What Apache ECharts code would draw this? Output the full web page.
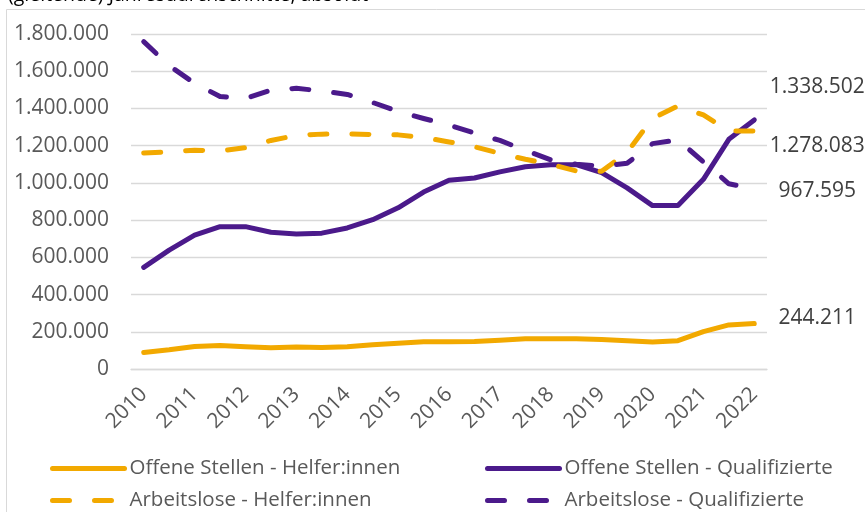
<!DOCTYPE html>
<html>
<head>
<meta charset="utf-8">
<script src="https://cdn.jsdelivr.net/npm/echarts@6/dist/echarts.min.js"></script>
<style>
html,body{margin:0;padding:0;background:#fff;}
#chart{width:865px;height:512px;}
</style>
</head>
<body>
<div id="chart"></div>
<script>
// Half-year points of moving annual averages, 2010 .. 2022
const categories = ['2010','2010,5','2011','2011,5','2012','2012,5','2013','2013,5','2014','2014,5',
  '2015','2015,5','2016','2016,5','2017','2017,5','2018','2018,5','2019','2019,5',
  '2020','2020,5','2021','2021,5','2022'];

const yTicks = [0, 200000, 400000, 600000, 800000, 1000000, 1200000, 1400000, 1600000, 1800000];

const offeneHelfer = [89000, 103000, 121000, 126000, 119000, 114000, 118000, 116000, 119000, 130000,
  139000, 146000, 147000, 148000, 155000, 162000, 162000, 162000, 158000, 152000,
  145000, 152000, 201000, 237000, 244211];

const offeneQualifizierte = [546000, 639000, 719000, 765000, 765000, 735000, 726000, 730000, 758000, 802000,
  866000, 951000, 1014000, 1026000, 1059000, 1087000, 1098000, 1098000, 1055000, 973000,
  878000, 878000, 1019000, 1234000, 1338502];

const arbeitsloseHelfer = [1160000, 1167000, 1175000, 1172000, 1189000, 1228000, 1255000, 1262000, 1264000, 1260000,
  1258000, 1244000, 1220000, 1194000, 1159000, 1127000, 1100000, 1064000, 1062000, 1164000,
  1346000, 1413000, 1365000, 1280000, 1278083];

const arbeitsloseQualifizierte = [1759000, 1630000, 1535000, 1464000, 1453000, 1499000, 1508000, 1494000, 1475000, 1432000,
  1384000, 1346000, 1311000, 1268000, 1228000, 1175000, 1124000, 1100000, 1089000, 1105000,
  1211000, 1231000, 1113000, 995000, 967595];

const seriesNames = ['Offene Stellen - Helfer:innen', 'Offene Stellen - Qualifizierte',
  'Arbeitslose - Helfer:innen', 'Arbeitslose - Qualifizierte'];

const ORANGE = '#F2A900';
const PURPLE = '#4B1A8B';
const FONT = 'Open Sans';

function fmtDE(v) {
  return String(Math.round(v)).replace(/\B(?=(\d{3})+(?!\d))/g, '.');
}

const chart = echarts.init(document.getElementById('chart'), null, {renderer: 'canvas'});

function mkSeries(name, data, color, dashed, labelOffset) {
  return {
    name: name,
    type: 'line',
    data: data,
    symbol: 'none',
    smooth: false,
    lineStyle: {
      color: color,
      width: 5,
      type: dashed ? [17, 25] : 'solid',
      cap: 'round',
      join: 'round'
    },
    itemStyle: {color: color},
    endLabel: {
      show: true,
      formatter: p => fmtDE(p.value),
      color: '#404040',
      fontFamily: FONT,
      fontSize: 21,
      align: 'center',
      verticalAlign: 'middle',
      distance: 0,
      offset: labelOffset
    },
    emphasis: {disabled: true}
  };
}

function mkLegend(left, top, name) {
  return {
    orient: 'horizontal',
    left: left,
    top: top,
    padding: 0,
    itemWidth: 72,
    itemHeight: 18,
    data: [name],
    textStyle: {color: '#595959', fontFamily: FONT, fontSize: 20.5, lineHeight: 18},
    lineStyle: {width: 5, cap: 'round'},
    itemStyle: {color: 'rgba(0,0,0,0)', borderColor: 'rgba(0,0,0,0)', borderWidth: 0},
    selectedMode: false
  };
}

const option = {
  animation: false,
  backgroundColor: '#fff',
  title: {
    text: '(gleitende) Jahresdurchschnitte, absolut',
    left: 8,
    top: -15,
    padding: 0,
    textStyle: {fontFamily: FONT, fontSize: 19.5, fontWeight: 'normal', color: '#000'}
  },
  graphic: [{
    type: 'rect',
    shape: {x: 6.5, y: 9.5, width: 1000, height: 1000},
    style: {fill: 'none', stroke: '#d9d9d9', lineWidth: 1},
    silent: true,
    z: -10
  }],
  grid: {left: 131, right: 98, top: 34, bottom: 143, containLabel: false},
  xAxis: {
    type: 'category',
    data: categories,
    boundaryGap: true,
    axisLine: {show: true, lineStyle: {color: '#d9d9d9', width: 1.3}},
    axisTick: {show: false},
    axisLabel: {
      interval: 1,
      rotate: 45,
      margin: 22,
      color: '#595959',
      fontFamily: FONT,
      fontSize: 21
    },
    splitLine: {show: false}
  },
  yAxis: {
    type: 'value',
    min: yTicks[0],
    max: yTicks[yTicks.length - 1],
    interval: yTicks[1] - yTicks[0],
    axisLine: {show: false},
    axisTick: {show: false},
    axisLabel: {
      margin: 22,
      color: '#595959',
      fontFamily: FONT,
      fontSize: 21,
      formatter: v => fmtDE(v)
    },
    splitLine: {show: true, lineStyle: {color: '#d9d9d9', width: 1.3}}
  },
  legend: [
    mkLegend(50, 458, seriesNames[0]),
    mkLegend(50, 490, seriesNames[2]),
    mkLegend(485, 458, seriesNames[1]),
    mkLegend(485, 490, seriesNames[3])
  ],
  series: [
    mkSeries(seriesNames[0], offeneHelfer, ORANGE, false, [63, -6]),
    mkSeries(seriesNames[1], offeneQualifizierte, PURPLE, false, [63, -33]),
    mkSeries(seriesNames[2], arbeitsloseHelfer, ORANGE, true, [63, 15]),
    mkSeries(seriesNames[3], arbeitsloseQualifizierte, PURPLE, true, [63, 2])
  ]
};

chart.setOption(option);
</script>
</body>
</html>
